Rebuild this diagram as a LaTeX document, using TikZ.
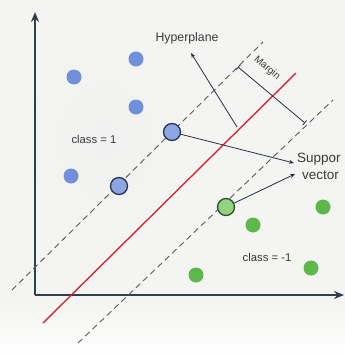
\documentclass[tikz,border=0pt]{standalone}
\usepackage{fontspec}
\setmainfont{Liberation Sans}
\usetikzlibrary{arrows.meta}
\definecolor{bg}{HTML}{F4F4F2}
\definecolor{axis}{HTML}{2F3E50}
\definecolor{hyp}{HTML}{D42A35}
\definecolor{dash}{HTML}{5A5A5A}
\definecolor{bluept}{HTML}{7090DC}
\definecolor{blueedge}{HTML}{263656}
\definecolor{greenpt}{HTML}{5DB84A}
\definecolor{greensv}{HTML}{93D27E}
\definecolor{greenedge}{HTML}{2E5230}
\definecolor{txt}{HTML}{3A3A3A}
\tikzset{
  bpt/.style={circle, fill=bluept, minimum size=15pt, inner sep=0pt},
  bsv/.style={circle, fill=bluept!80!white, draw=blueedge, line width=1.3pt, minimum size=17pt, inner sep=0pt},
  gpt/.style={circle, fill=greenpt, minimum size=15pt, inner sep=0pt},
  gsv/.style={circle, fill=greensv, draw=greenedge, line width=1.3pt, minimum size=17pt, inner sep=0pt},
  axisline/.style={draw=axis, line width=1.5pt, -{Stealth[length=10pt,width=8pt]}},
  marginline/.style={draw=dash, dash pattern=on 6pt off 4pt, line width=0.9pt},
  pointer/.style={draw=axis!80!black, line width=0.8pt, -{Stealth[length=5pt,width=4pt]}},
  lbl/.style={text=txt, inner sep=0pt}
}
\begin{document}
\begin{tikzpicture}[x=1pt, y=-1pt]
\useasboundingbox (0,0) rectangle (345,356);
\fill[bg] (0,0) rectangle (345,356);
\shade[inner color=gray!11, outer color=bg] (105,140) ellipse (90 and 110);
\shade[top color=bg, bottom color=white] (0,300) rectangle (345,356);
% axes
\coordinate (O) at (35,295);
\coordinate (Ytop) at (35,12);
\coordinate (Xend) at (344,295);
\draw[axisline] (O) -- (Ytop);
\draw[axisline] (O) -- (Xend);
% margin lines and hyperplane
\coordinate (u1) at (12,290); \coordinate (u2) at (263,42);
\coordinate (l1) at (78,343); \coordinate (l2) at (333,100);
\coordinate (h1) at (43,323); \coordinate (h2) at (296,73);
\draw[marginline] (u1) -- (u2);
\draw[marginline] (l1) -- (l2);
\draw[hyp, line width=1.4pt] (h1) -- (h2);
% points
\node[bpt] (b1) at (74,77) {};
\node[bpt] (b2) at (136,59) {};
\node[bpt] (b3) at (136,107) {};
\node[bpt] (b4) at (71,176) {};
\node[bsv] (s1) at (172,132) {};
\node[bsv] (s2) at (119,186) {};
\node[gsv] (s3) at (226,207) {};
\node[gpt] (g1) at (253,225) {};
\node[gpt] (g2) at (323,207) {};
\node[gpt] (g3) at (311,268) {};
\node[gpt] (g4) at (196,275) {};
% labels
\node[lbl, font=\fontsize{12.3}{14}\selectfont] (hyperlbl) at (187,38) {Hyperplane};
\node[lbl, font=\fontsize{11.3}{13}\selectfont] (c1) at (94,139) {class = 1};
\node[lbl, font=\fontsize{11.3}{13}\selectfont] (c2) at (267,257) {class = -1};
\node[lbl, anchor=west, font=\fontsize{13.5}{15}\selectfont] (sup1) at (297,159) {Suppor};
\node[lbl, anchor=west, font=\fontsize{13.5}{15}\selectfont] (sup2) at (302,175) {vector};
% hyperplane pointer
\coordinate (hp) at (237,127);
\coordinate (hpt) at (191,53);
\draw[pointer] (hp) -- (hpt);
% margin
\coordinate (m1) at (238,67);
\coordinate (m2) at (305,123);
\draw[axis!80!black, line width=0.8pt, {Bar[width=6pt]}-{Bar[width=6pt]}] (m1) -- (m2);
\node[lbl, font=\fontsize{10}{12}\selectfont, rotate=-40] (mlbl) at (267,68) {Margin};
% support vector pointers
\coordinate (sa) at (294,163);
\coordinate (sb) at (295,174);
\draw[pointer] (s1) -- (sa);
\draw[pointer] (s3) -- (sb);
\end{tikzpicture}
\end{document}
